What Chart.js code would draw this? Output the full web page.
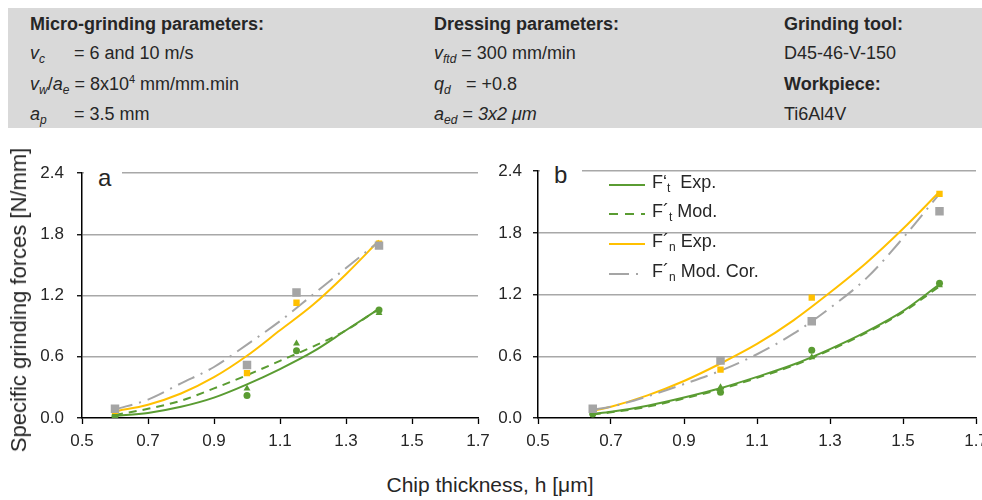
<!DOCTYPE html>
<html><head><meta charset="utf-8">
<script src="https://cdn.jsdelivr.net/npm/chart.js@4.4.1/dist/chart.umd.min.js"></script>
<style>
html,body{margin:0;padding:0;background:#fff;overflow:hidden;width:982px;height:500px;}
body{position:relative;font-family:'Liberation Sans Narrow','Arial Narrow','Liberation Sans',Arial,sans-serif;color:#262626;}
#hdr{position:absolute;left:8px;top:8px;width:974px;height:120px;background:#d9d9d9;}
.t{position:absolute;font-size:18px;line-height:22px;white-space:nowrap;}
.b{font-weight:bold;}
sub{font-size:12px;vertical-align:-4px;line-height:0}
sup{font-size:11px;vertical-align:7px;line-height:0}
.box{position:absolute;}
.lab{position:absolute;background:#fff;font-size:24px;line-height:30px;padding-left:14px;}
.lg{position:absolute;font-size:18px;line-height:22px;white-space:nowrap;}
</style></head>
<body>
<div id="hdr"></div>
<div class="t b" style="left:30px;top:13px">Micro-grinding parameters:</div>
<div class="t b" style="left:434px;top:13px">Dressing parameters:</div>
<div class="t b" style="left:784px;top:13px">Grinding tool:</div>

<div class="t" style="left:30px;top:42px"><i>v</i><sub><i>c</i></sub></div>
<div class="t" style="left:74px;top:42px">= 6 and 10 m/s</div>
<div class="t" style="left:434px;top:42px"><i>v</i><sub><i>ftd</i></sub> = 300 mm/min</div>
<div class="t" style="left:784px;top:42px">D45-46-V-150</div>

<div class="t" style="left:30px;top:73px"><i>v</i><sub><i>w</i></sub>/<i>a</i><sub><i>e</i></sub> = 8x10<sup>4</sup> mm/mm.min</div>
<div class="t" style="left:434px;top:73px"><i>q</i><sub><i>d</i></sub></div>
<div class="t" style="left:466px;top:73px">= +0.8</div>
<div class="t b" style="left:784px;top:73px">Workpiece:</div>

<div class="t" style="left:30px;top:103px"><i>a</i><sub><i>p</i></sub></div>
<div class="t" style="left:74px;top:103px">= 3.5 mm</div>
<div class="t" style="left:434px;top:103px"><i>a</i><sub><i>ed</i></sub> = <i>3x2 μm</i></div>
<div class="t" style="left:784px;top:103px">Ti6Al4V</div>

<canvas id="ca" class="box" width="510" height="300" style="left:0;top:150px"></canvas>
<canvas id="cb" class="box" width="510" height="300" style="left:490px;top:150px"></canvas>

<div class="lab" style="left:84px;top:163px;width:24px;">a</div>
<div class="lab" style="left:540px;top:160px;width:28px;">b</div>

<div class="lg" style="left:609px;top:171px"><svg width="36" height="6"><line x1="0" y1="3" x2="36" y2="3" stroke="#5a9c32" stroke-width="2"/></svg></div>
<div class="lg" style="left:652px;top:171px">F‘<sub>t</sub>&nbsp;&nbsp;Exp.</div>
<div class="lg" style="left:609px;top:200px"><svg width="36" height="6"><line x1="0" y1="3" x2="36" y2="3" stroke="#5a9c32" stroke-width="2" stroke-dasharray="9 7"/></svg></div>
<div class="lg" style="left:652px;top:200px">F´<sub>t</sub>&nbsp;Mod.</div>
<div class="lg" style="left:609px;top:230px"><svg width="36" height="6"><line x1="0" y1="3" x2="36" y2="3" stroke="#ffc000" stroke-width="2"/></svg></div>
<div class="lg" style="left:652px;top:230px">F´<sub>n</sub> Exp.</div>
<div class="lg" style="left:609px;top:260px"><svg width="36" height="6"><line x1="0" y1="3" x2="36" y2="3" stroke="#a5a5a5" stroke-width="2" stroke-dasharray="20 7 2 7"/></svg></div>
<div class="lg" style="left:652px;top:260px">F´<sub>n</sub> Mod. Cor.</div>

<div class="t" style="left:19px;top:300px;font-size:22px;line-height:24px;transform:translate(-50%,-50%) rotate(-90deg);">Specific grinding forces [N/mm]</div>
<div class="t" style="left:490px;top:473px;font-size:21px;line-height:24px;transform:translateX(-50%);">Chip thickness, h [μm]</div>

<script>
// ---- Panel a data ----
const aFitX      = [0.6, 0.7, 0.8, 0.9, 1.0, 1.1, 1.2, 1.3, 1.4];
const aFtExpFit  = [0.02, 0.05, 0.11, 0.20, 0.33, 0.48, 0.65, 0.86, 1.07];
const aFtModFit  = [0.03, 0.09, 0.17, 0.29, 0.42, 0.56, 0.70, 0.86, 1.07];
const aFnExpFit  = [0.065, 0.13, 0.24, 0.40, 0.61, 0.86, 1.11, 1.41, 1.74];
const aFnModFit  = [0.085, 0.18, 0.34, 0.50, 0.72, 0.95, 1.21, 1.47, 1.73];
const aPtX       = [0.6, 1.0, 1.15, 1.4];
const aFtExpPts  = [0.02, 0.22, 0.66, 1.06];
const aFtModPts  = [0.03, 0.29, 0.73, 1.03];
const aFnExpPts  = [0.07, 0.44, 1.13, 1.71];
const aFnModPts  = [0.09, 0.52, 1.23, 1.69];

// ---- Panel b data ----
const bFitX      = [0.65, 0.7, 0.8, 0.9, 1.0, 1.1, 1.2, 1.3, 1.4, 1.5, 1.6];
const bFtExpFit  = [0.04, 0.06, 0.12, 0.20, 0.29, 0.40, 0.52, 0.67, 0.84, 1.04, 1.30];
const bFtModFit  = [0.035, 0.055, 0.11, 0.19, 0.28, 0.39, 0.51, 0.66, 0.83, 1.03, 1.28];
const bFnExpFit  = [0.07, 0.11, 0.22, 0.36, 0.53, 0.72, 0.95, 1.22, 1.51, 1.84, 2.20];
const bFnModFit  = [0.08, 0.11, 0.21, 0.33, 0.46, 0.62, 0.82, 1.07, 1.36, 1.75, 2.18];
const bPtX       = [0.65, 1.0, 1.25, 1.6];
const bFtExpPts  = [0.04, 0.25, 0.66, 1.31];
const bFtModPts  = [0.05, 0.30, 0.59, 1.29];
const bFnExpPts  = [0.08, 0.47, 1.17, 2.18];
const bFnModPts  = [0.09, 0.56, 0.94, 2.01];

const xTicks = [0.5, 0.7, 0.9, 1.1, 1.3, 1.5, 1.7];
const yTicks = [0.0, 0.6, 1.2, 1.8, 2.4];

const GREEN = '#5a9c32', ORANGE = '#ffc000', GRAY = '#a5a5a5';
const FONT = "'Liberation Sans Narrow','Arial Narrow','Liberation Sans',Arial,sans-serif";

function xy(xs, ys){ return xs.map((x,i)=>({x:x, y:ys[i]})); }

function curve(xs, ys, color, dash){
  return {type:'line', data:xy(xs,ys), borderColor:color, borderWidth:2, borderDash:dash||[],
          pointRadius:0, fill:false, cubicInterpolationMode:'monotone', order:2};
}
function pts(xs, ys, color, style, r){
  return {type:'line', data:xy(xs,ys), showLine:false, pointStyle:style, pointRadius:r,
          pointBackgroundColor:color, pointBorderColor:color, pointBorderWidth:0, order:1};
}

function make(id, ds, yWidth, yPad, padRight){
  return new Chart(document.getElementById(id), {
    type:'line',
    data:{datasets:ds},
    options:{
      responsive:false, animation:false, devicePixelRatio:1,
      layout:{padding:{top:17, right:padRight, left:0, bottom:0}},
      plugins:{legend:{display:false}, tooltip:{enabled:false}},
      scales:{
        x:{type:'linear', min:0.5, max:1.7,
           afterBuildTicks:s=>{ s.ticks = xTicks.map(v=>({value:v})); },
           ticks:{callback:v=>Number(v).toFixed(1), font:{size:17, family:FONT}, color:'#262626', padding:7, maxRotation:0, autoSkip:false},
           grid:{drawOnChartArea:false, tickLength:6, tickColor:'#000', tickWidth:1.3},
           border:{color:'#000', width:1.5},
           afterFit:s=>{ s.height = 32; }},
        y:{type:'linear', min:0, max:2.4,
           afterBuildTicks:s=>{ s.ticks = yTicks.map(v=>({value:v})); },
           ticks:{callback:v=>Number(v).toFixed(1), font:{size:17, family:FONT}, color:'#262626', padding:yPad},
           grid:{color:c=>(c.tick && c.tick.value===0)?'rgba(0,0,0,0)':'#a8a8a8', lineWidth:1.5, tickLength:5, tickColor:'#000', tickWidth:1.3},
           border:{color:'#000', width:1.5},
           afterFit:s=>{ s.width = yWidth; }}
      }
    }
  });
}

make('ca', [
  pts(aPtX, aFtExpPts, GREEN, 'circle', 3.5),
  pts(aPtX, aFtModPts, GREEN, 'triangle', 4),
  pts(aPtX, aFnExpPts, ORANGE, 'rect', 4.5),
  pts(aPtX, aFnModPts, GRAY, 'rect', 6),
  curve(aFitX, aFtExpFit, GREEN),
  curve(aFitX, aFtModFit, GREEN, [8,6]),
  curve(aFitX, aFnExpFit, ORANGE),
  curve(aFitX, aFnModFit, GRAY, [18,7,2,7])
].reverse(), 82, 13, 32);

make('cb', [
  pts(bPtX, bFtExpPts, GREEN, 'circle', 3.5),
  pts(bPtX, bFtModPts, GREEN, 'triangle', 4),
  pts(bPtX, bFnExpPts, ORANGE, 'rect', 4.5),
  pts(bPtX, bFnModPts, GRAY, 'rect', 6),
  curve(bFitX, bFtExpFit, GREEN),
  curve(bFitX, bFtModFit, GREEN, [8,6]),
  curve(bFitX, bFnExpFit, ORANGE),
  curve(bFitX, bFnModFit, GRAY, [18,7,2,7])
].reverse(), 48, 11, 24);
</script>
</body></html>
